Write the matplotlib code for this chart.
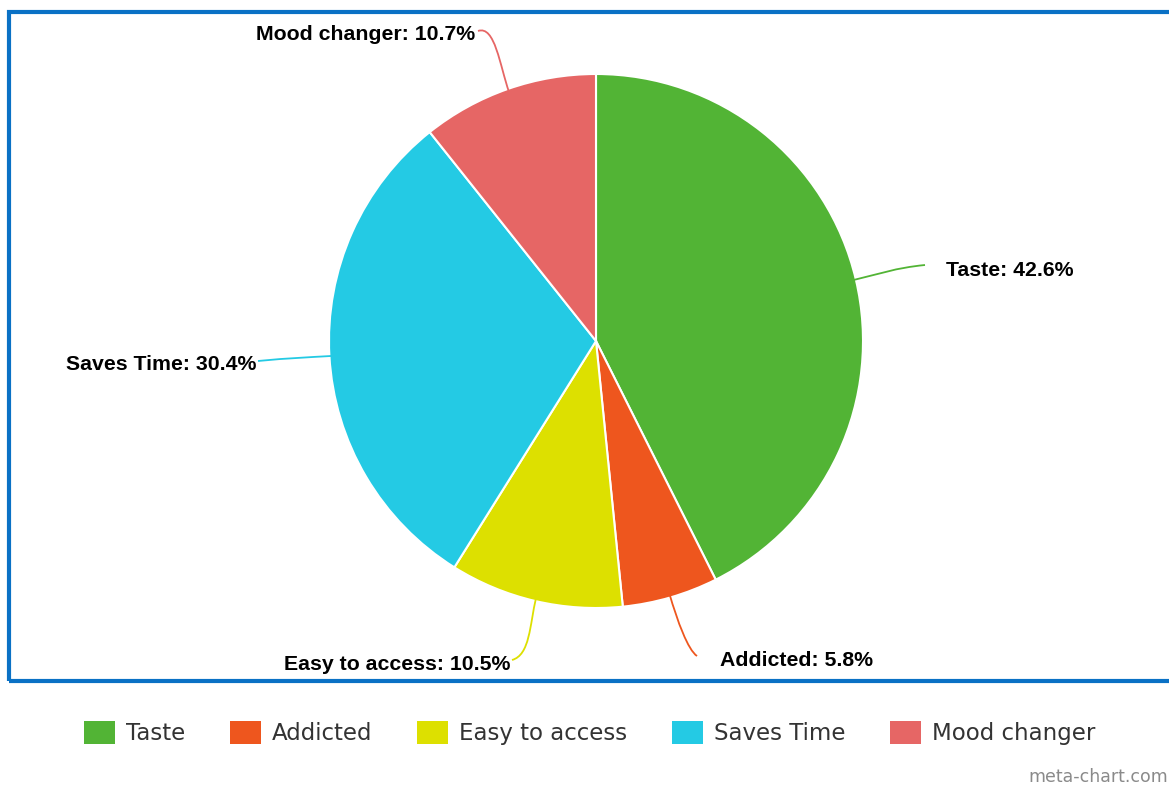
import matplotlib
matplotlib.use("Agg")
import matplotlib.pyplot as plt
import numpy as np
from matplotlib.patches import Rectangle, PathPatch
from matplotlib.path import Path

categories = ["Taste", "Addicted", "Easy to access", "Saves Time", "Mood changer"]
values = [42.6, 5.8, 10.5, 30.4, 10.7]
colors = ["#52b435", "#ee561e", "#dde000", "#24cae4", "#e66665"]

W, H = 1169, 790
fig = plt.figure(figsize=(W / 100, H / 100), dpi=100)
ax = fig.add_axes([0, 0, 1, 1])


def py(y):
    return H - y


cx, cy, R = 596, py(341), 267
wedges, _ = ax.pie(values, colors=colors, startangle=90, counterclock=False,
                   center=(cx, cy), radius=R, frame=True,
                   wedgeprops=dict(edgecolor="white", linewidth=1.5))
ax.set_xlim(0, W)
ax.set_ylim(0, H)
ax.set_aspect("equal")
ax.axis("off")

# label layout: text anchor, alignment, curve control point, end point
layout = [
    dict(tx=946, ty=270, ha="left", ctrl=(895, 268), end=(925, 265)),
    dict(tx=720, ty=661, ha="left", ctrl=(688, 650), end=(697, 656)),
    dict(tx=510, ty=665, ha="right", ctrl=(530, 655), end=(512, 660)),
    dict(tx=256, ty=364, ha="right", ctrl=(290, 358), end=(258, 361)),
    dict(tx=475, ty=35, ha="right", ctrl=(495, 25), end=(478, 31)),
]

cum = 0.0
total = sum(values)
for val, col, lab, lo in zip(values, colors, categories, layout):
    mid = 90 - (cum + val / 2) / total * 360
    cum += val
    a = np.deg2rad(mid)
    ox, oy = cx + (R - 4) * np.cos(a), cy + (R - 4) * np.sin(a)
    c = (lo["ctrl"][0], py(lo["ctrl"][1]))
    e = (lo["end"][0], py(lo["end"][1]))
    p1 = (cx + (R + 25) * np.cos(a), cy + (R + 25) * np.sin(a))
    path = Path([(ox, oy), p1, c, e],
                [Path.MOVETO, Path.CURVE4, Path.CURVE4, Path.CURVE4])
    ax.add_patch(PathPatch(path, facecolor="none", edgecolor=col, lw=1.3))
    ax.text(lo["tx"], py(lo["ty"]), f"{lab}: {val}%", ha=lo["ha"], va="center",
            fontsize=15.3, fontweight="bold", family="Liberation Sans", color="black")

# border
ax.add_patch(Rectangle((8.5, py(681)), 1170, 681 - 11.5, fill=False,
                       edgecolor="#0a71c5", lw=3, clip_on=False))

# legend
handles = [Rectangle((0, 0), 1, 1, facecolor=c) for c in colors]
leg = fig.legend(handles, categories, loc="center", bbox_to_anchor=(590 / W, 1 - 733 / H),
                 ncol=5, frameon=False, handlelength=1.35, handleheight=1.15,
                 columnspacing=1.95, handletextpad=0.48, borderpad=0, borderaxespad=0,
                 prop=dict(family="DejaVu Sans", size=16.5))
for t in leg.get_texts():
    t.set_color("#333333")

fig.text(1168 / W, 1 - 777 / H, "meta-chart.com", ha="right", va="center",
         fontsize=12.5, color="#8a8a8a", family="DejaVu Sans")

fig.savefig("out.png", dpi=100)
